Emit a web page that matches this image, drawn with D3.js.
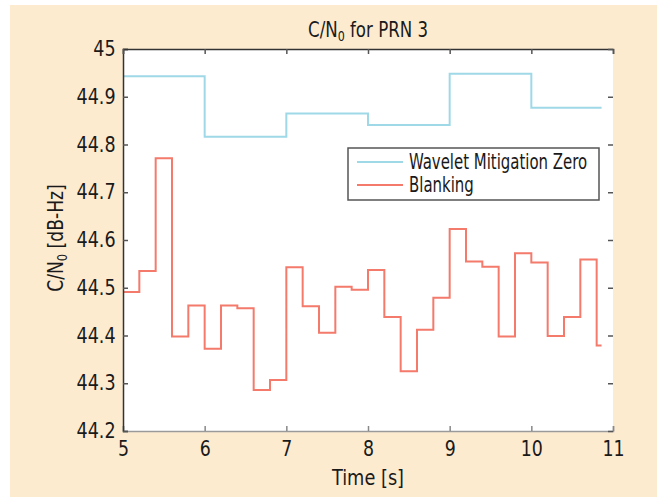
<!DOCTYPE html>
<html>
<head>
<meta charset="utf-8">
<script src="https://cdn.jsdelivr.net/npm/d3@7"></script>
<style>
  body { margin: 0; background: #fff; }
  svg text { font-family: "Liberation Sans Narrow", "DejaVu Sans Condensed", "Roboto Condensed", sans-serif; font-stretch: condensed; fill: #1a1a1a; }
</style>
</head>
<body>
<svg id="chart" width="657" height="497"></svg>
<script>
// step series, sampled every 0.2 s (red) and every 1 s (blue)
var blankTimes = [5.0, 5.2, 5.4, 5.6, 5.8, 6.0, 6.2, 6.4, 6.6, 6.8, 7.0, 7.2, 7.4, 7.6, 7.8,
  8.0, 8.2, 8.4, 8.6, 8.8, 9.0, 9.2, 9.4, 9.6, 9.8, 10.0, 10.2, 10.4, 10.6, 10.8, 10.86];
var blankValues = [44.491, 44.535, 44.771, 44.398, 44.463, 44.372, 44.463, 44.457, 44.286, 44.307,
  44.543, 44.461, 44.406, 44.502, 44.496, 44.537, 44.439, 44.325, 44.412, 44.479,
  44.623, 44.555, 44.544, 44.398, 44.572, 44.553, 44.399, 44.439, 44.559, 44.379, 44.379];
var waveTimes = [5, 6, 7, 8, 9, 10, 10.86];
var waveValues = [44.943, 44.816, 44.865, 44.841, 44.948, 44.877, 44.877];

var xTicks = [5, 6, 7, 8, 9, 10, 11];
var yTicks = [44.2, 44.3, 44.4, 44.5, 44.6, 44.7, 44.8, 44.9, 45];
var seriesNames = ["Wavelet Mitigation Zero", "Blanking"];
var seriesColors = ["#9fd8e7", "#f47a6b"];

var margin = {top: 49, right: 44, bottom: 66, left: 123},
  width = 657 - margin.left - margin.right,
  height = 497 - margin.top - margin.bottom;

var svg = d3.select("#chart");

// beige panel
svg.append("rect")
  .attr("x", 10).attr("y", 5)
  .attr("width", 647).attr("height", 492)
  .attr("fill", "#fdebd0");

var x = d3.scaleLinear().domain([5, 11]).range([0, width]);
var y = d3.scaleLinear().domain([44.2, 45]).range([height, 0]);

var g = svg.append("g")
  .attr("transform", "translate(" + margin.left + "," + margin.top + ")");

g.append("rect")
  .attr("width", width).attr("height", height)
  .attr("fill", "#fff");

var line = d3.line()
  .x(function(d) { return x(d[0]); })
  .y(function(d) { return y(d[1]); })
  .curve(d3.curveStepAfter);

g.append("path")
  .datum(d3.zip(waveTimes, waveValues))
  .attr("fill", "none")
  .attr("stroke", seriesColors[0])
  .attr("stroke-width", 2)
  .attr("d", line);

g.append("path")
  .datum(d3.zip(blankTimes, blankValues))
  .attr("fill", "none")
  .attr("stroke", seriesColors[1])
  .attr("stroke-width", 2)
  .attr("d", line);

// axes (ticks inside on all four sides)
var xAxis = g.append("g")
  .attr("class", "x axis")
  .attr("transform", "translate(0," + height + ")")
  .call(d3.axisBottom(x).tickValues(xTicks).tickSize(-5).tickPadding(10).tickFormat(d3.format("d")));
xAxis.select(".domain").attr("stroke", "#9a9a9a").attr("stroke-width", 1.5);
xAxis.selectAll(".tick line").attr("stroke", "#888").attr("stroke-width", 1.5);
xAxis.selectAll("text").attr("font-size", 21).attr("fill", "#1a1a1a")
  .attr("transform", "scale(0.92,1)");

var yAxis = g.append("g")
  .attr("class", "y axis")
  .call(d3.axisLeft(y).tickValues(yTicks).tickSize(-5).tickPadding(8).tickFormat(function(d) { return d === 45 ? "45" : d3.format(".1f")(d); }));
yAxis.select(".domain").attr("stroke", "#333").attr("stroke-width", 1.5);
yAxis.selectAll(".tick line").attr("stroke", "#555").attr("stroke-width", 1.5);
yAxis.selectAll("text").attr("font-size", 21).attr("fill", "#1a1a1a")
  .attr("transform", "scale(0.93,1)");

var topAxis = g.append("g")
  .call(d3.axisTop(x).tickValues(xTicks).tickSize(-5).tickFormat(""));
topAxis.select(".domain").attr("stroke", "#333").attr("stroke-width", 1.5);
topAxis.selectAll(".tick line").attr("stroke", "#555").attr("stroke-width", 1.5);

var rightAxis = g.append("g")
  .attr("transform", "translate(" + width + ",0)")
  .call(d3.axisRight(y).tickValues(yTicks).tickSize(-5).tickFormat(""));
rightAxis.select(".domain").remove();
rightAxis.selectAll(".tick line").attr("stroke", "#555").attr("stroke-width", 1.5);

// title
var title = svg.append("text")
  .attr("transform", "translate(" + (margin.left + width / 2) + ",37) scale(0.88,1)")
  .attr("text-anchor", "middle")
  .attr("font-size", 21);
title.append("tspan").text("C/N");
title.append("tspan").attr("font-size", 14).attr("dy", 4).text("0");
title.append("tspan").attr("dy", -4).text(" for PRN 3");

// axis labels
svg.append("text")
  .attr("transform", "translate(" + (margin.left + width / 2) + ",485) scale(0.94,1)")
  .attr("text-anchor", "middle")
  .attr("font-size", 21)
  .text("Time [s]");

var yLabel = svg.append("text")
  .attr("transform", "translate(63," + (margin.top + height / 2 - 2) + ") rotate(-90) scale(0.91,1)")
  .attr("text-anchor", "middle")
  .attr("font-size", 21);
yLabel.append("tspan").text("C/N");
yLabel.append("tspan").attr("font-size", 14).attr("dy", 4).text("0");
yLabel.append("tspan").attr("dy", -4).text(" [dB-Hz]");

// legend
var legend = svg.append("g").attr("transform", "translate(348,148)");
legend.append("rect")
  .attr("width", 251).attr("height", 52)
  .attr("fill", "#fff")
  .attr("stroke", "#555")
  .attr("stroke-width", 1.5);

var item = legend.selectAll(".item")
  .data(seriesNames)
  .enter().append("g")
    .attr("class", "item")
    .attr("transform", function(d, i) { return "translate(0," + (14 + i * 23) + ")"; });

item.append("line")
  .attr("x1", 9).attr("x2", 55)
  .attr("stroke", function(d, i) { return seriesColors[i]; })
  .attr("stroke-width", 2);

item.append("text")
  .attr("transform", "translate(61,0) scale(0.81,1)")
  .attr("dy", "0.35em")
  .attr("font-size", 20.5)
  .text(function(d) { return d; });
</script>
</body>
</html>
